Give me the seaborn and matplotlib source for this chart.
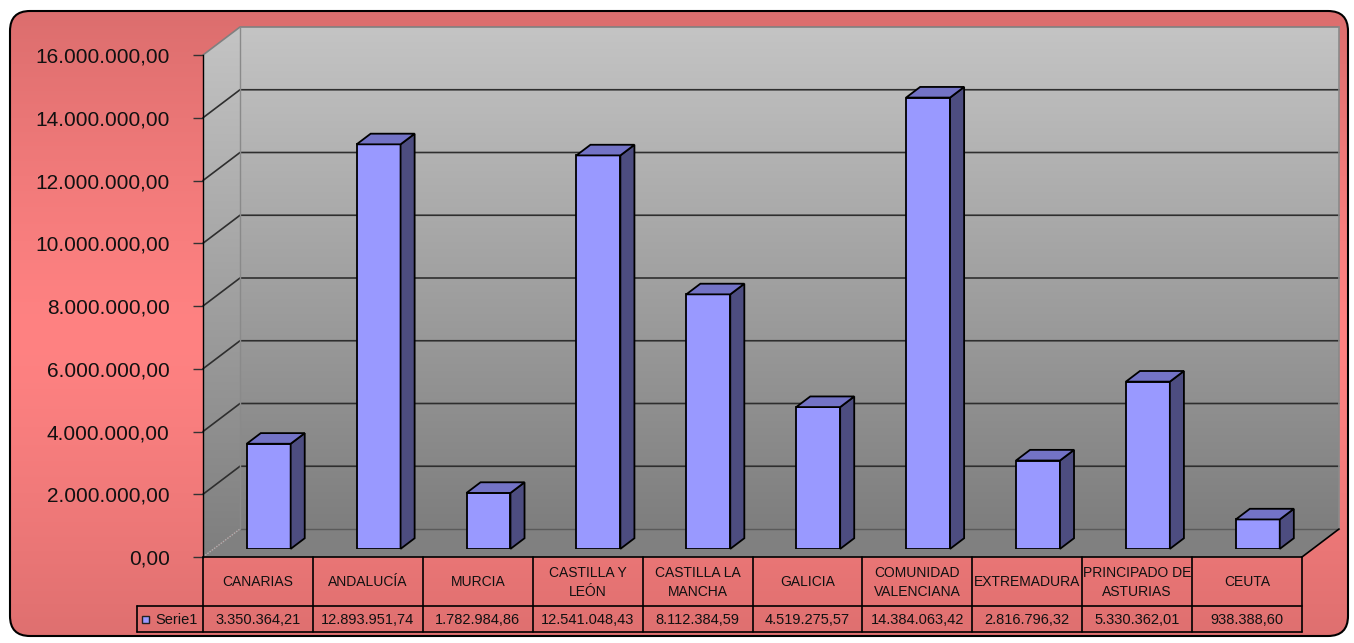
import numpy as np
import matplotlib
matplotlib.use("Agg")
import matplotlib.pyplot as plt
import seaborn as sns
import pandas as pd
from matplotlib.patches import Polygon, FancyBboxPatch, Rectangle
from matplotlib.colors import LinearSegmentedColormap

# ---------------- data ----------------
categories = ["CANARIAS", "ANDALUCÍA", "MURCIA", "CASTILLA Y LEÓN", "CASTILLA LA MANCHA",
              "GALICIA", "COMUNIDAD VALENCIANA", "EXTREMADURA", "PRINCIPADO DE ASTURIAS", "CEUTA"]
category_labels = ["CANARIAS", "ANDALUCÍA", "MURCIA", "CASTILLA Y\nLEÓN", "CASTILLA LA\nMANCHA",
                   "GALICIA", "COMUNIDAD\nVALENCIANA", "EXTREMADURA", "PRINCIPADO DE\nASTURIAS", "CEUTA"]
values = [3350364.21, 12893951.74, 1782984.86, 12541048.43, 8112384.59,
          4519275.57, 14384063.42, 2816796.32, 5330362.01, 938388.60]
series_name = "Serie1"
y_ticks = [0, 2000000, 4000000, 6000000, 8000000, 10000000, 12000000, 14000000, 16000000]


def es_fmt(v):
    s = f"{v:,.2f}"
    return s.replace(",", "X").replace(".", ",").replace("X", ".")


W, H = 1354, 643
sns.set_theme(style="white")
plt.rcParams['font.family'] = ['Liberation Sans', 'DejaVu Sans']

fig = plt.figure(figsize=(W / 100, H / 100), dpi=100)

# ---------------- background (pixel coordinates) ----------------
bg = fig.add_axes([0, 0, 1, 1])
bg.set_xlim(0, W)
bg.set_ylim(H, 0)
bg.axis('off')

yy = np.linspace(0, 1, 300)
t = np.clip(np.abs(yy - 0.52) / 0.5, 0, 1) ** 1.3
c_center = np.array([255, 130, 130]) / 255
c_edge = np.array([220, 110, 110]) / 255
grad = (c_center[None, :] * (1 - t[:, None]) + c_edge[None, :] * t[:, None])
grad = np.repeat(grad[:, None, :], 2, axis=1)
outer = FancyBboxPatch((10, 11), 1338, 625, boxstyle="round,pad=0,rounding_size=20",
                       transform=bg.transData, facecolor='none', edgecolor='none')
bg.add_patch(outer)
im = bg.imshow(grad, extent=(0, W, H, 0), aspect='auto', zorder=0, interpolation='bilinear')
im.set_clip_path(outer)
bg.add_patch(FancyBboxPatch((10, 11), 1338, 625, boxstyle="round,pad=0,rounding_size=20",
                            facecolor='none', edgecolor='black', linewidth=1.5, zorder=5))

# ---------------- front plane axes ----------------
FL, FR, FT, FB = 203, 1302, 55, 557
ax = fig.add_axes([FL / W, (H - FB) / H, (FR - FL) / W, (FB - FT) / H])
ax.set_xlim(-0.5, len(categories) - 0.5)
ax.set_ylim(0, 16000000)
ax.patch.set_alpha(0)


def to_px(axes, x, y):
    d = axes.transData.transform((x, y))
    return d[0], H - d[1]


DX, DY = 37, 28      # full depth offset (pixels)
BF = 0.29            # depth fraction of bar front face
BD = 0.38            # depth fraction of bar thickness

x_left = -0.5
x_right = len(categories) - 0.5
fx0, fy_top = to_px(ax, x_left, y_ticks[-1])
_, fy_bot = to_px(ax, x_left, 0)
fx1, _ = to_px(ax, x_right, 0)

# back wall gradient
wall_cmap = LinearSegmentedColormap.from_list("wall", ["#C4C4C4", "#7E7E7E"])
wall_grad = wall_cmap(np.linspace(0, 1, 256))[:, None, :3]
bg.imshow(wall_grad, extent=(fx0 + DX, fx1 + DX, fy_bot - DY, fy_top - DY),
          aspect='auto', zorder=1, interpolation='bilinear')
# left wall gradient
lw_poly = Polygon([(fx0, fy_top), (fx0 + DX, fy_top - DY), (fx0 + DX, fy_bot - DY), (fx0, fy_bot)],
                  closed=True, facecolor='none', edgecolor='none', transform=bg.transData)
bg.add_patch(lw_poly)
im2 = bg.imshow(wall_grad, extent=(fx0, fx0 + DX, fy_bot, fy_top - DY),
                aspect='auto', zorder=1, interpolation='bilinear')
im2.set_clip_path(lw_poly)
# floor
bg.add_patch(Polygon([(fx0, fy_bot), (fx0 + DX, fy_bot - DY), (fx1 + DX, fy_bot - DY), (fx1, fy_bot)],
                     closed=True, facecolor='#808080', edgecolor='none', zorder=1))
bg.plot([fx1, fx1 + DX], [fy_bot, fy_bot - DY], color='black', lw=1.2, zorder=3)

# gridlines
for v in y_ticks:
    _, yv = to_px(ax, x_left, v)
    if v == 0:
        bg.plot([fx0, fx0 + DX], [yv, yv - DY], color='#B0B0B0', lw=1.0, ls=(0, (1, 1)), zorder=2)
        bg.plot([fx0 + DX, fx1 + DX], [yv - DY, yv - DY], color='#5A5A5A', lw=1.0, zorder=2)
    elif v == y_ticks[-1]:
        bg.plot([fx0, fx0 + DX, fx1 + DX], [yv, yv - DY, yv - DY], color='#808080', lw=1.2, zorder=2)
    else:
        bg.plot([fx0, fx0 + DX, fx1 + DX], [yv, yv - DY, yv - DY], color='#2E2E2E', lw=1.2, zorder=2)
bg.plot([fx0 + DX, fx0 + DX], [fy_top - DY, fy_bot - DY], color='#8A8A8A', lw=1.0, zorder=2)
bg.plot([fx1 + DX, fx1 + DX], [fy_top - DY, fy_bot - DY], color='#8A8A8A', lw=1.2, zorder=2)

# y axis
ax.set_yticks(y_ticks)
ax.set_yticklabels([es_fmt(v) for v in y_ticks], fontsize=15, color='#111111')
ax.set_xticks([])
ax.tick_params(axis='y', left=True, length=7, width=1, color='#333333', pad=17, direction='out')
for s in ['top', 'right', 'bottom']:
    ax.spines[s].set_visible(False)
ax.spines['left'].set_color('black')
ax.spines['left'].set_linewidth(1.0)

# ---------------- bars (seaborn) ----------------
ax_bars = fig.add_axes([(FL + BF * DX) / W, (H - FB + BF * DY) / H, (FR - FL) / W, (FB - FT) / H])
df = pd.DataFrame({"region": categories, "value": values})
sns.barplot(data=df, x="region", y="value", ax=ax_bars, color="#9999FF", saturation=1,
            width=0.4, edgecolor="black", linewidth=1.3, zorder=3)
ax_bars.set_xlim(x_left, x_right)
ax_bars.set_ylim(0, 16000000)
ax_bars.axis('off')
ax_bars.patch.set_alpha(0)

# overlay (pixel coordinates)
ov = fig.add_axes([0, 0, 1, 1])
ov.set_xlim(0, W)
ov.set_ylim(H, 0)
ov.axis('off')
ov.patch.set_alpha(0)

bdx, bdy = BD * DX, BD * DY
for p in ax_bars.patches:
    x0, x1 = p.get_x(), p.get_x() + p.get_width()
    h = p.get_height()
    px0, py0 = to_px(ax_bars, x0, 0)
    px1, py1 = to_px(ax_bars, x1, h)
    side = [(px1, py0), (px1 + bdx, py0 - bdy), (px1 + bdx, py1 - bdy), (px1, py1)]
    top = [(px0, py1), (px0 + bdx, py1 - bdy), (px1 + bdx, py1 - bdy), (px1, py1)]
    ov.add_patch(Polygon(side, closed=True, facecolor='#4D4D80', edgecolor='black', lw=1.3, joinstyle='miter'))
    ov.add_patch(Polygon(top, closed=True, facecolor='#7373C6', edgecolor='black', lw=1.3, joinstyle='miter'))

# ---------------- data table ----------------
row1_top, row1_bot, row2_bot = FB, 606, 632
leg_left = 137
col_edges = [to_px(ax, x_left + i, 0)[0] for i in range(len(categories) + 1)]
tc = 'black'
ov.plot([col_edges[0], col_edges[-1]], [row1_top, row1_top], color=tc, lw=1.2)
ov.plot([leg_left, col_edges[-1]], [row1_bot, row1_bot], color=tc, lw=1.2)
ov.plot([leg_left, col_edges[-1]], [row2_bot, row2_bot], color=tc, lw=1.2)
ov.plot([leg_left, leg_left], [row1_bot, row2_bot], color=tc, lw=1.2)
ov.plot([col_edges[0], col_edges[0]], [row1_top, row2_bot], color=tc, lw=1.2)
for xe in col_edges[1:]:
    ov.plot([xe, xe], [row1_top, row2_bot], color=tc, lw=1.2)

for i, (lab, v) in enumerate(zip(category_labels, values)):
    xc = (col_edges[i] + col_edges[i + 1]) / 2
    ov.text(xc, (row1_top + row1_bot) / 2 + 1, lab, ha='center', va='center', fontsize=10,
            color='#111111', linespacing=1.45)
    ov.text(xc, (row1_bot + row2_bot) / 2 + 1, es_fmt(v), ha='center', va='center', fontsize=10.5,
            color='#111111')

ymid = (row1_bot + row2_bot) / 2
ov.add_patch(Rectangle((141.5, ymid - 3.5), 7, 7, facecolor='#9999FF', edgecolor='#222222', lw=1))
ov.text(155, ymid + 1, series_name, ha='left', va='center', fontsize=10.5, color='#111111')

fig.savefig("out.png", dpi=100)
